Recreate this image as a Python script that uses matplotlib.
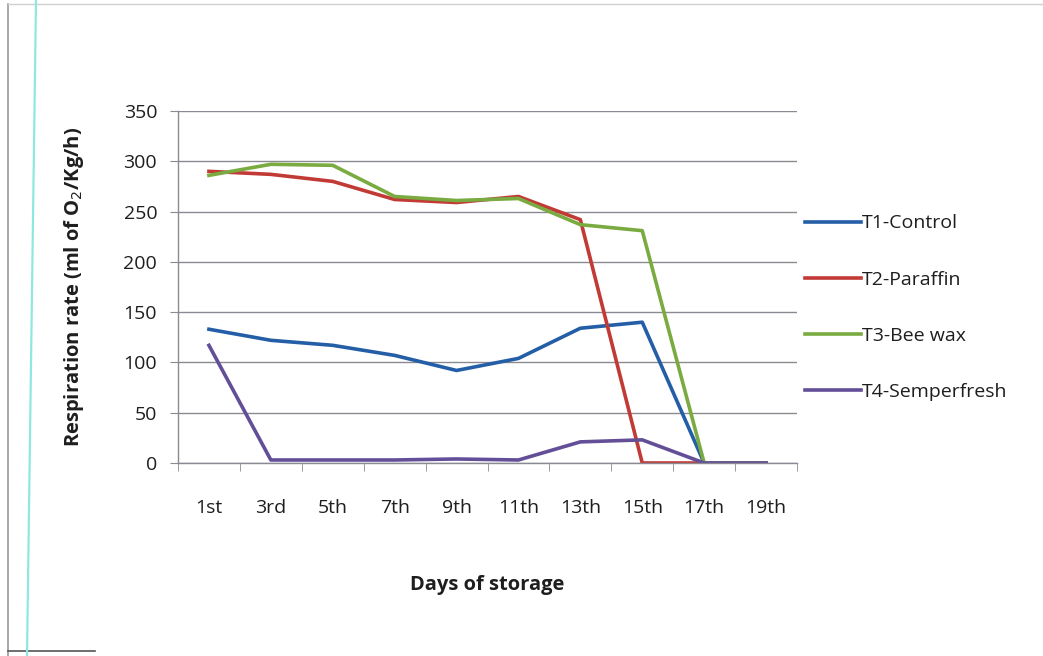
import matplotlib
matplotlib.use("Agg")
import matplotlib.pyplot as plt
from matplotlib.lines import Line2D

plt.rcParams['font.family'] = ['Open Sans', 'DejaVu Sans']

days = ['1st', '3rd', '5th', '7th', '9th', '11th', '13th', '15th', '17th', '19th']
t1_control = [133, 122, 117, 107, 92, 104, 134, 140, 0, 0]
t2_paraffin = [290, 287, 280, 262, 259, 265, 242, 0, 0, 0]
t3_beewax = [286, 297, 296, 265, 261, 263, 237, 231, 0, 0]
t4_semperfresh = [117, 3, 3, 3, 4, 3, 21, 23, 0, 0]

series = [
    ('T1-Control', t1_control, '#245ea6'),
    ('T2-Paraffin', t2_paraffin, '#c23a36'),
    ('T3-Bee wax', t3_beewax, '#7aab40'),
    ('T4-Semperfresh', t4_semperfresh, '#634e98'),
]

W, H = 1043, 656
fig = plt.figure(figsize=(W / 100, H / 100), dpi=100)
ax = fig.add_axes([178 / W, 1 - 463 / H, 619 / W, 352 / H])

x = list(range(len(days)))
for name, vals, col in series:
    ax.plot(x, vals, color=col, lw=2.6, label=name, solid_joinstyle='round')

ax.set_xlim(-0.5, len(days) - 0.5)
ax.set_ylim(0, 350)
ax.set_yticks(range(0, 351, 50))
ax.set_xticks(x)
ax.set_xticklabels(days)
ax.set_xticks([i - 0.5 for i in range(len(days) + 1)], minor=True)

grid_col = '#8a8a92'
txt_col = '#1e1e1e'
ax.yaxis.grid(True, color=grid_col, lw=1.0)
ax.set_axisbelow(True)
for s in ['top', 'right']:
    ax.spines[s].set_visible(False)
for s in ['left', 'bottom']:
    ax.spines[s].set_color(grid_col)
    ax.spines[s].set_linewidth(1.0)

ax.tick_params(axis='y', length=6, color=grid_col, labelsize=14, pad=9, labelcolor=txt_col)
ax.tick_params(axis='x', which='major', length=0, labelsize=14, pad=26, labelcolor=txt_col)
ax.tick_params(axis='x', which='minor', length=6, color=grid_col)

ax.set_xlabel('Days of storage', fontsize=14.5, fontweight='bold', labelpad=42, color=txt_col)
ax.set_ylabel('Respiration rate (ml of O$_2$/Kg/h)', fontsize=14.5, fontweight='bold',
              labelpad=27, color=txt_col)

leg = ax.legend(loc='upper left', bbox_to_anchor=(787 / W, 1 - 197 / H),
                bbox_transform=fig.transFigure, frameon=False, fontsize=14,
                handlelength=2.9, handletextpad=0.05, labelspacing=1.96)
for t in leg.get_texts():
    t.set_color(txt_col)

# page frame and edge line
fig.add_artist(Line2D([8 / W, 8 / W], [0, 1 - 4 / H], color='#9a9a9a', lw=1.2))
fig.add_artist(Line2D([8 / W, 1], [1 - 4 / H, 1 - 4 / H], color='#d0d0d0', lw=1.0))
fig.add_artist(Line2D([8 / W, 95 / W], [1 - 651 / H, 1 - 651 / H], color='#555555', lw=1.2))
fig.add_artist(Line2D([36 / W, 27 / W], [1, 0], color='#8ee8e0', lw=1.6))

fig.savefig('out.png', dpi=100, facecolor='white')
